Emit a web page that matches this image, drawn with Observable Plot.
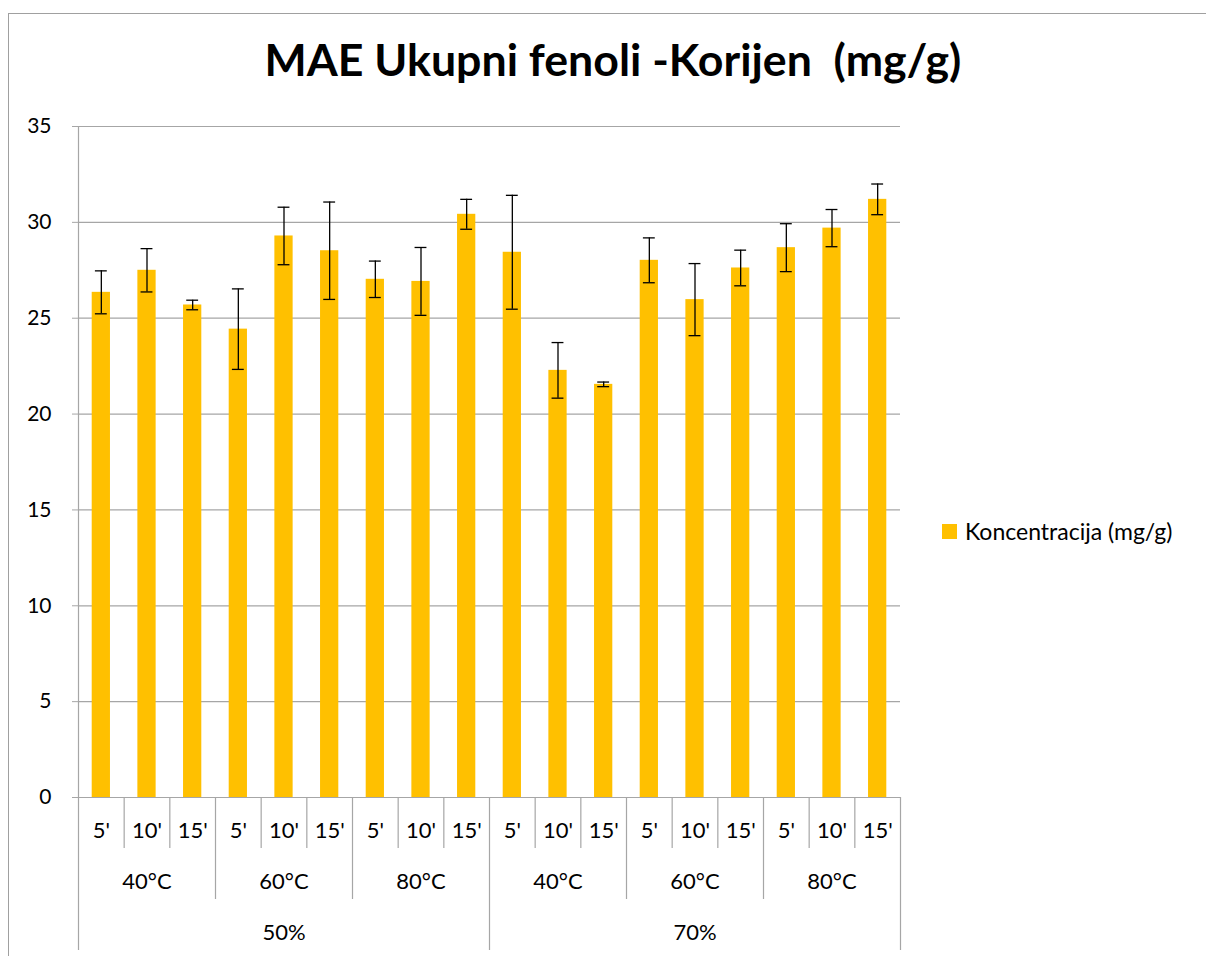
<!DOCTYPE html>
<html><head><meta charset="utf-8">
<script src="https://cdn.jsdelivr.net/npm/d3@7"></script>
<script src="https://cdn.jsdelivr.net/npm/@observablehq/plot@0.6"></script>
<style>
body{margin:0;background:#fff;}
#wrap{position:relative;width:1206px;height:956px;overflow:hidden;font-family:Lato,"Open Sans",sans-serif;background:#fff;}
#frame{position:absolute;left:8px;top:13px;width:1300px;height:1000px;border-left:1px solid #a0a0a0;border-top:1px solid #a0a0a0;box-sizing:border-box;}
#title{position:absolute;white-space:pre;font-weight:bold;line-height:1;color:#000;}
#legend{position:absolute;left:942px;top:516px;display:flex;align-items:center;font-size:23px;color:#000;white-space:nowrap;height:30px;}
#legend .sw{width:15px;height:15px;background:#FFC000;margin-right:8px;}
.plot{position:absolute;left:0;}
</style></head>
<body>
<div id="wrap">
  <div id="frame"></div>
  <div id="title"></div>
  <div id="legend"><span class="sw"></span><span id="legtext"></span></div>
</div>
<script>
// ---- data ----
const titleText = "MAE Ukupni fenoli -Korijen  (mg/g)";
const seriesName = "Koncentracija (mg/g)";
const ratios = ["50%", "70%"];
const temps = ["40°C", "60°C", "80°C"];
const times = ["5'", "10'", "15'"];
const values = [26.35, 27.5, 25.69, 24.43, 29.29, 28.52, 27.03, 26.92, 30.42,
                28.44, 22.28, 21.55, 28.02, 25.97, 27.62, 28.68, 29.7, 31.2];
const errors = [1.12, 1.13, 0.25, 2.1, 1.5, 2.54, 0.95, 1.77, 0.78,
                2.97, 1.45, 0.12, 1.17, 1.88, 0.93, 1.25, 0.97, 0.8];
const yTicks = [0, 5, 10, 15, 20, 25, 30, 35];

// ---- derived tables ----
const rows = [];
ratios.forEach((r, ri) => temps.forEach((t, ti) => times.forEach((m, mi) => {
  const i = ri * temps.length * times.length + ti * times.length + mi;
  rows.push({i, ratio: r, temp: t, time: m, v: values[i], e: errors[i]});
})));
const n = rows.length;
const perRatio = temps.length * times.length;
const tempGroups = [];
ratios.forEach((r, ri) => temps.forEach((t, ti) => tempGroups.push({temp: t, start: ri * perRatio + ti * times.length})));
const ratioGroups = ratios.map((r, ri) => ({ratio: r, start: ri * perRatio}));
const bounds = d3.range(n + 1).map(b => ({b, depth: b % perRatio === 0 ? 3 : b % times.length === 0 ? 2 : 1}));

const font = 'Lato, "Open Sans", sans-serif';
const style = {background: "transparent", fontFamily: font, fontSize: "21px", color: "#000", overflow: "visible"};
const grid = "#a6a6a6";
const fy = 21, fx = 22;

const main = Plot.plot({
  width: 1206, height: 956,
  marginLeft: 78, marginRight: 306, marginTop: 126, marginBottom: 159,
  style,
  x: {domain: [0, n], axis: null},
  y: {domain: [0, 35], axis: null},
  marks: [
    Plot.ruleY(yTicks, {stroke: grid, strokeWidth: 1.2}),
    Plot.ruleX([0], {stroke: grid, strokeWidth: 1.2}),
    Plot.axisY(yTicks, {label: null, tickSize: 6, tickPadding: 21, stroke: grid, fill: "#000", fontSize: fy, tickFormat: d => String(d)}),
    Plot.rectY(rows, {x1: d => d.i + 0.3, x2: d => d.i + 0.7, y: "v", fill: "#FFC000"}),
    Plot.ruleX(rows, {x: d => d.i + 0.5, y1: d => d.v - d.e, y2: d => d.v + d.e, stroke: "#000", strokeWidth: 1.3}),
    Plot.ruleY(rows, {y: d => d.v + d.e, x1: d => d.i + 0.37, x2: d => d.i + 0.63, stroke: "#000", strokeWidth: 1.3}),
    Plot.ruleY(rows, {y: d => d.v - d.e, x1: d => d.i + 0.37, x2: d => d.i + 0.63, stroke: "#000", strokeWidth: 1.3})
  ]
});
main.classList.add("plot");
main.style.top = "0px";

const axis = Plot.plot({
  width: 1206, height: 159,
  marginLeft: 78, marginRight: 306, marginTop: 0, marginBottom: 6,
  style,
  x: {domain: [0, n], axis: null},
  y: {domain: [0, 3], range: [0, 153], axis: null},
  marks: [
    Plot.ruleX(bounds, {x: "b", y1: 0, y2: "depth", stroke: grid, strokeWidth: 1.2}),
    Plot.text(rows, {x: d => d.i + 0.5, y: 0.5, text: "time", dy: 8, fontSize: fx}),
    Plot.text(tempGroups, {x: d => d.start + times.length / 2, y: 1.5, text: "temp", dy: 8, fontSize: fx}),
    Plot.text(ratioGroups, {x: d => d.start + perRatio / 2, y: 2.5, text: "ratio", dy: 8, fontSize: fx})
  ]
});
axis.classList.add("plot");
axis.style.top = "797px";

const wrap = document.getElementById("wrap");
wrap.appendChild(main);
wrap.appendChild(axis);

// title, fitted to the reference width
const title = document.getElementById("title");
title.textContent = titleText;
const ctx = document.createElement("canvas").getContext("2d");
ctx.font = `bold 40px ${font}`;
const w40 = ctx.measureText(titleText).width;
const fs = 40 * 697 / w40;
title.style.fontSize = fs + "px";
title.style.fontFamily = font;
title.style.left = (613 - 697 / 2) + "px";
title.style.top = (77 - 0.89 * fs) + "px";
document.getElementById("legtext").textContent = seriesName;
</script>
</body></html>
